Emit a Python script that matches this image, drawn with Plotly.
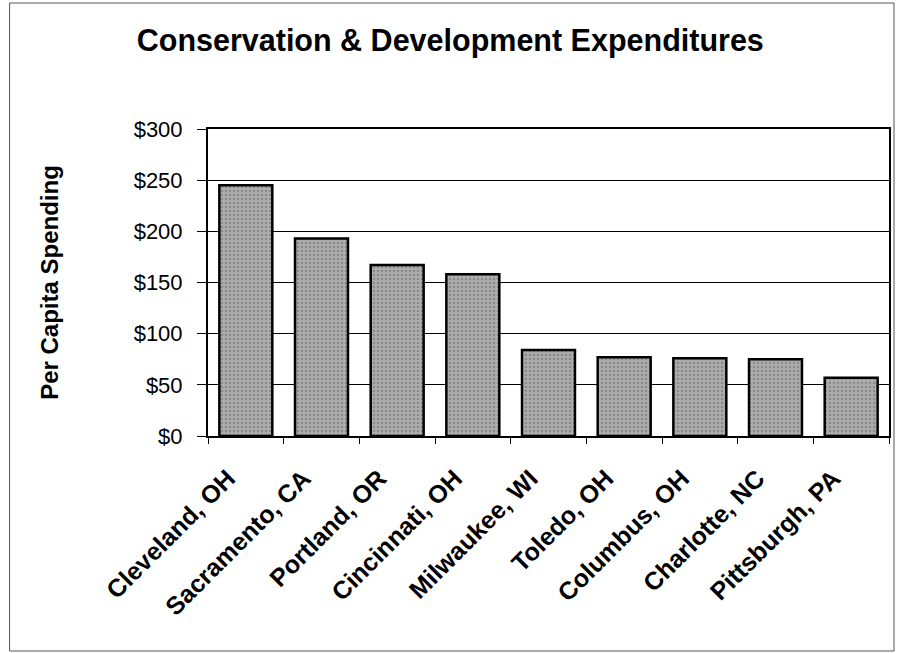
import plotly.graph_objects as go

cities = ["Cleveland, OH", "Sacramento, CA", "Portland, OR", "Cincinnati, OH",
          "Milwaukee, WI", "Toledo, OH", "Columbus, OH", "Charlotte, NC", "Pittsburgh, PA"]
spending = [245, 193, 167, 158, 84, 77, 76, 75, 57]
tick_vals = [0, 50, 100, 150, 200, 250, 300]
tick_text = ["$0", "$50", "$100", "$150", "$200", "$250", "$300"]

W, H = 899, 653
L, R, T, B = 208, 8, 129, 217

fig = go.Figure(go.Bar(
    x=cities, y=spending, width=0.7,
    marker=dict(color="#a8a8a8",
                line=dict(color="black", width=2.5),
                pattern=dict(shape=".", fgcolor="#666666", bgcolor="#adadad",
                             size=4, solidity=0.3)),
))

pw = W - L - R
ph = H - T - B
def px(x):
    return (x - L) / pw
def py(y):
    return (H - B - y) / ph

fig.update_layout(
    width=W, height=H,
    margin=dict(l=L, r=R, t=T, b=B),
    paper_bgcolor="white", plot_bgcolor="white",
    font=dict(family="Liberation Sans, Arial, sans-serif", color="black"),
    title=dict(text="<b>Conservation & Development Expenditures</b>",
               x=px(451), xref="paper", xanchor="center",
               y=1 - 40 / H, yanchor="middle", font=dict(size=30.5)),
    showlegend=False,
    shapes=[dict(type="rect", xref="paper", yref="paper",
                 x0=px(9), x1=px(896), y0=py(651), y1=py(3),
                 line=dict(color="#555555", width=1), layer="below")],
)
fig.update_yaxes(range=[0, 300], tickvals=tick_vals, ticktext=tick_text,
                 tickfont=dict(size=22), ticks="outside", ticklen=9,
                 ticklabelstandoff=10,
                 tickcolor="black", showline=True, linecolor="black", linewidth=2,
                 mirror=True, showgrid=True, gridcolor="black", gridwidth=1,
                 zeroline=False,
                 title=dict(text="<b>Per Capita Spending</b>", font=dict(size=24),
                            standoff=68))
fig.update_xaxes(tickangle=-45, tickfont=dict(size=25, weight="bold"), ticks="outside",
                 tickson="boundaries", ticklen=6, tickcolor="black",
                 ticklabelstandoff=16, ticklabelshift=-18,
                 showline=True, linecolor="black", linewidth=2, mirror=True)

fig.write_html("out.html", config={"displayModeBar": False},
               post_script="document.body.style.margin='0';document.body.style.overflow='hidden';")
